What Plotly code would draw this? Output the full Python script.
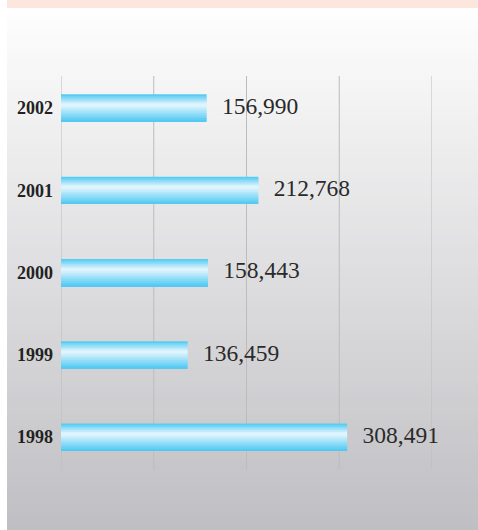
import plotly.graph_objects as go

years = ["1998", "1999", "2000", "2001", "2002"]
values = [308491, 136459, 158443, 212768, 156990]
x_ticks = [0, 100000, 200000, 300000, 400000]

W, H = 478, 530
L_PX, R_PX, T_PX, B_PX = 61, 432, 76, 469

def lerp(a, b, t):
    return tuple(round(a[i] + (b[i] - a[i]) * t) for i in range(3))

def rgb(c):
    return "rgb(%d,%d,%d)" % c

fig = go.Figure()

# gradient bars built from horizontal strips
bar_w = 0.33
n_strips = 16
edge = (76, 200, 242)
light = (232, 247, 254)
for i in range(n_strips):
    t = (i + 0.5) / n_strips  # 0 = top, 1 = bottom
    if t < 0.38:
        col = lerp(edge, light, t / 0.38)
    else:
        col = lerp(light, edge, (t - 0.38) / 0.62)
    sw = bar_w / n_strips
    top = bar_w / 2 - i * sw
    bottom = top - sw * (1.6 if i < n_strips - 1 else 1.0)
    fig.add_trace(go.Bar(
        x=values, y=years, orientation="h",
        width=top - bottom, offset=bottom,
        marker=dict(color=rgb(col), line=dict(width=0)),
        hoverinfo="skip", showlegend=False,
    ))

# value labels
fig.add_trace(go.Scatter(
    x=values, y=years, mode="markers+text",
    marker=dict(size=23, color="rgba(0,0,0,0)"),
    text=[f"{v:,}" for v in values],
    textposition="middle right",
    textfont=dict(family="Liberation Serif", size=23.5, color="#2a2a2a"),
    hoverinfo="skip", showlegend=False, cliponaxis=False,
))

shapes = []
# pink top band
shapes.append(dict(type="rect", xref="paper", yref="paper",
                   x0=7 / W, x1=1, y0=1 - 8 / H, y1=1,
                   fillcolor="rgb(252,230,221)", line=dict(width=0), layer="below"))
# gradient panel
n_bands = 80
top_c = (254, 254, 254)
bot_c = (191, 191, 195)
py0, py1 = 8, H
for i in range(n_bands):
    a = py0 + (py1 - py0) * i / n_bands
    b = py0 + (py1 - py0) * (i + 1.5) / n_bands
    b = min(b, py1)
    c = lerp(top_c, bot_c, (i + 0.5) / n_bands)
    shapes.append(dict(type="rect", xref="paper", yref="paper",
                       x0=7 / W, x1=1, y0=1 - b / H, y1=1 - a / H,
                       fillcolor=rgb(c), line=dict(width=0), layer="below"))
# vertical grid lines
for xv in x_ticks:
    shapes.append(dict(type="line", xref="x", yref="paper",
                       x0=xv, x1=xv, y0=1 - B_PX / H, y1=1 - T_PX / H,
                       line=dict(color="rgb(188,188,190)", width=1), layer="below"))

fig.update_layout(
    width=W, height=H,
    margin=dict(l=0, r=0, t=0, b=0, pad=0),
    paper_bgcolor="white",
    plot_bgcolor="rgba(0,0,0,0)",
    barmode="overlay",
    shapes=shapes,
    xaxis=dict(
        domain=[L_PX / W, R_PX / W],
        range=[x_ticks[0], x_ticks[-1]],
        showticklabels=False, showgrid=False,
        zeroline=False, showline=False, ticks="",
    ),
    yaxis=dict(
        domain=[1 - B_PX / H, 1 - T_PX / H],
        type="category", categoryorder="array", categoryarray=years,
        range=[-0.388, 4.388],
        showgrid=False, zeroline=False, showline=False, ticks="",
        ticklabelstandoff=7,
        tickfont=dict(family="Liberation Serif", size=18, color="#222222", weight="bold"),
    ),
    showlegend=False,
)

fig.write_html("out.html", config={"displayModeBar": False},
               post_script="document.body.style.margin='0';document.body.style.overflow='hidden';")
